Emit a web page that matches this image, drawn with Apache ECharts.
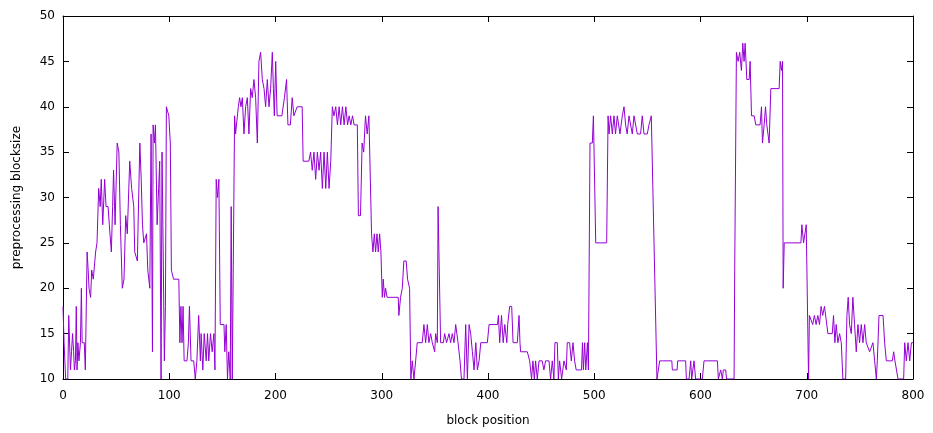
<!DOCTYPE html>
<html>
<head>
<meta charset="utf-8">
<script src="https://cdn.jsdelivr.net/npm/echarts@6/dist/echarts.min.js"></script>
<style>html,body{margin:0;padding:0;background:#fff}#c{width:933px;height:433px}</style>
</head>
<body>
<div id="c"></div>
<script>
// block positions (x) and preprocessing block sizes (y)
const xs = [0,1,2.5,4.5,5.4,7,8,9,10,10.7,11.7,12.5,13.2,14,15,16.4,17.3,18,20,21,22.7,23.7,24.5,26,27,28.5,30.7,32,33.6,35,36,37.4,39.2,40.5,42.4,43.6,45.5,46.7,47.6,49,51,52.6,54,55.8,57.4,59,60.5,62.8,64.6,66.6,67.5,70,70.5,72.3,73.6,74.8,76,77.6,78.6,79.8,81.7,82.9,84.2,84.8,86,87,88.6,90,91,92.3,93.2,94,95.4,96.4,97.3,99.6,100.5,101,102,104,109,110,111,112,113,114,116.7,118,119,120.5,123,124.5,126,127.7,129.3,130,131.6,132.9,134.8,136,137.2,138.8,140.4,142,143,144.2,145.4,146.7,148,151.5,152.3,153.6,154.8,156,157.4,158.3,159.3,160.2,161.5,162.4,164,165,166.2,167.5,168.8,170.3,171.9,173.5,175,176.6,178.1,179.7,181.3,182.9,184.4,186,187.6,189.2,190.7,192.3,193.9,195.4,197,198,198.9,200.2,201.5,206,208.4,209.5,210.4,211.7,214,215.7,217.3,219,220.4,225.1,226,231.4,233,234.6,236.2,237.8,239.4,241,242.5,244.1,245.7,247.3,248.8,250.4,252,253.5,255,256.7,258.3,259.9,261.4,263,264.6,266.2,267.8,269.3,270.9,272.5,274,277,278,280,281.5,283,284.7,286.3,287.9,289.5,290.4,291.7,293,294.2,295.5,296.7,298,299.2,300.5,301.4,302.6,303.6,305,315.5,316.1,317.7,319.3,320.8,323,324.3,326.2,327.4,328.7,330.3,331.9,333.4,338.1,339.7,341.3,342.9,344.4,346,347.6,349.8,350.7,352.3,353,354.8,355.4,358,359.2,361,363.3,364.8,366.4,368,369.6,371.8,373.7,375,377.4,379,380.6,382.2,383.7,385.3,386.9,388.5,390,391.6,393.2,399.4,401,408.9,409.8,411,412.7,414.3,415.8,417.7,418.5,420.4,422.3,423.6,427.6,429.2,430.1,430.7,437,439.2,441,442.3,443.6,444.8,446.4,448,451,452.6,454.2,457.4,458.9,460.5,462,463,465.2,466.2,467.4,469.3,471.5,473.7,474.6,476.8,478.4,480,481.5,483,488,488.9,489.8,491,492,493.6,494.5,496,498.2,499.2,500,501.4,511.7,513,513.9,515.4,517,518.6,520,521.7,524.2,526.4,528,529.5,531,532.7,534.2,535.8,537.4,539,540.5,543.6,545.2,546.8,549.9,551.5,553.7,554.7,559,560.4,561.6,564,573,573.5,578,578.5,586,586.7,589.2,590.8,591.7,593.9,595.4,601.7,603.3,615.9,616.8,619,620.6,621.5,623.7,624.5,631.6,632.2,632.8,633.8,635.4,636.9,638.5,639.8,641,642,643.6,645.8,646.7,648,650.5,652,656.1,657.4,658.3,659.9,661.2,662.4,664.6,666.2,674,675,676.2,677.2,677.8,678.8,694.5,695.4,697,699.5,700.8,701.7,702.5,705.6,707.2,708.8,710.4,712,713.5,715,716.7,718.3,719.9,724,725.2,726.5,727.7,729.3,730.9,732.5,734,736.6,737.8,739,740.3,741.9,743.4,745,746.6,748.2,749.7,751.3,752.9,754.5,756,759.2,762.3,763.9,765.5,766.4,768,771.8,773.3,774.9,780.5,781.8,783,785.9,791.2,792.2,793.7,795.3,796.9,798.5,800];
const ys = [18,14,10,10,17,11,13,15,13,11,12,18,11,14,12,14,20,14,14,11,24,22,20,19,22,21,24,25,31,29,32,27,32,29,29,27,24,29,33,27,36,35,27,20,21,28,26,34,31,29,24,23,26,36,32,27,25,25,26,22,20,37,13,38,36,38,27,31,34,10,35,27,12,18,40,39,37,36,22,21,21,14,18,14,18,12,12,14,18,12,12,10,12,17,12,15,11,15,12,15,12,15,13,15,11,32,30,32,16,16,13,16,10,13,10,29,10,10,39,37,37,40,41,40,41,37,40,41,37,42,41,43,41,36,45,46,43,42,40,43,40,42,46,42,39,45,39,39,41,41,43,38,38,41,39,39,40,40,34,34,35,33,35,32,35,33,35,31,35,31,35,31,34,40,39,40,38,40,38,40,38,40,38,39,38,39,38,38,28,28,36,35,39,37,39,39,26,24,26,24,26,24,26,24,19,21,19,20,19,19,17,19,20,23,23,21,20,10,12,10,12,14,14,16,14,16,14,15,14,13,15,14,29,29,14,14,15,14,15,14,15,14,16,14,12,10,10,16,10,16,15,13,11,14,11,12,14,14,16,16,17,14,17,14,16,14,16,18,18,14,14,17,14,13,13,12,10,12,10,12,10,12,12,11,12,12,10,12,10,14,14,10,12,10,12,11,14,14,12,14,12,11,11,14,11,14,11,14,11,36,36,39,39,25,25,39,37,39,37,39,37,39,37,39,40,38,37,39,39,37,39,39,37,37,39,37,37,38,39,39,10,10,12,12,12,11,11,12,12,10,10,12,10,12,10,10,12,12,10,11,10,11,11,10,10,22,22,46,45,46,44,47,45,47,43,43,45,39,39,38,38,40,36,38,40,38,36,42,42,45,44,45,20,25,25,27,25,27,27,10,17,16,17,16,17,16,18,17,18,18,15,15,17,14,16,14,15,14,10,10,17,19,16,15,19,16,13,16,14,16,14,16,14,13,14,12,10,12,17,17,14,12,12,13,12,10,10,14,12,14,12,14,14];
const xTicks = {min: 0, max: 800, step: 100};
const yTicks = {min: 10, max: 50, step: 5};
const xTitle = 'block position';
const yTitle = 'preprocessing blocksize';

const pts = xs.map((x, i) => [x, ys[i]]);
const font = 'DejaVu Sans';
const lineCol = '#000';
function axisBase(ticks) {
  return {
    type: 'value', min: ticks.min, max: ticks.max, interval: ticks.step,
    axisLine: {show: true, onZero: false, lineStyle: {color: lineCol, width: 1}},
    axisTick: {show: true, inside: true, length: 6, lineStyle: {color: lineCol, width: 1}},
    splitLine: {show: false},
    axisLabel: {color: '#000', fontFamily: font, fontSize: 12}
  };
}
const chart = echarts.init(document.getElementById('c'), null, {renderer: 'canvas'});
chart.setOption({
  animation: false,
  backgroundColor: '#fff',
  grid: {left: 63, right: 20, top: 16, bottom: 54, containLabel: false},
  xAxis: [
    Object.assign(axisBase(xTicks), {position: 'bottom', name: xTitle, nameLocation: 'middle', nameGap: 36,
      nameTextStyle: {color: '#000', fontFamily: font, fontSize: 12},
      axisLabel: {color: '#000', fontFamily: font, fontSize: 12, margin: 11}}),
    Object.assign(axisBase(xTicks), {position: 'top', axisLabel: {show: false}})
  ],
  yAxis: [
    Object.assign(axisBase(yTicks), {position: 'left', name: yTitle, nameLocation: 'middle', nameGap: 40, nameRotate: 90,
      nameTextStyle: {color: '#000', fontFamily: font, fontSize: 12},
      axisLabel: {color: '#000', fontFamily: font, fontSize: 12, margin: 8}}),
    Object.assign(axisBase(yTicks), {position: 'right', axisLabel: {show: false}})
  ],
  series: [{
    type: 'line', data: pts, xAxisIndex: 0, yAxisIndex: 0,
    showSymbol: false, symbol: 'none',
    lineStyle: {color: '#9400D3', width: 1},
    itemStyle: {color: '#9400D3'}
  }]
});
</script>
</body>
</html>
